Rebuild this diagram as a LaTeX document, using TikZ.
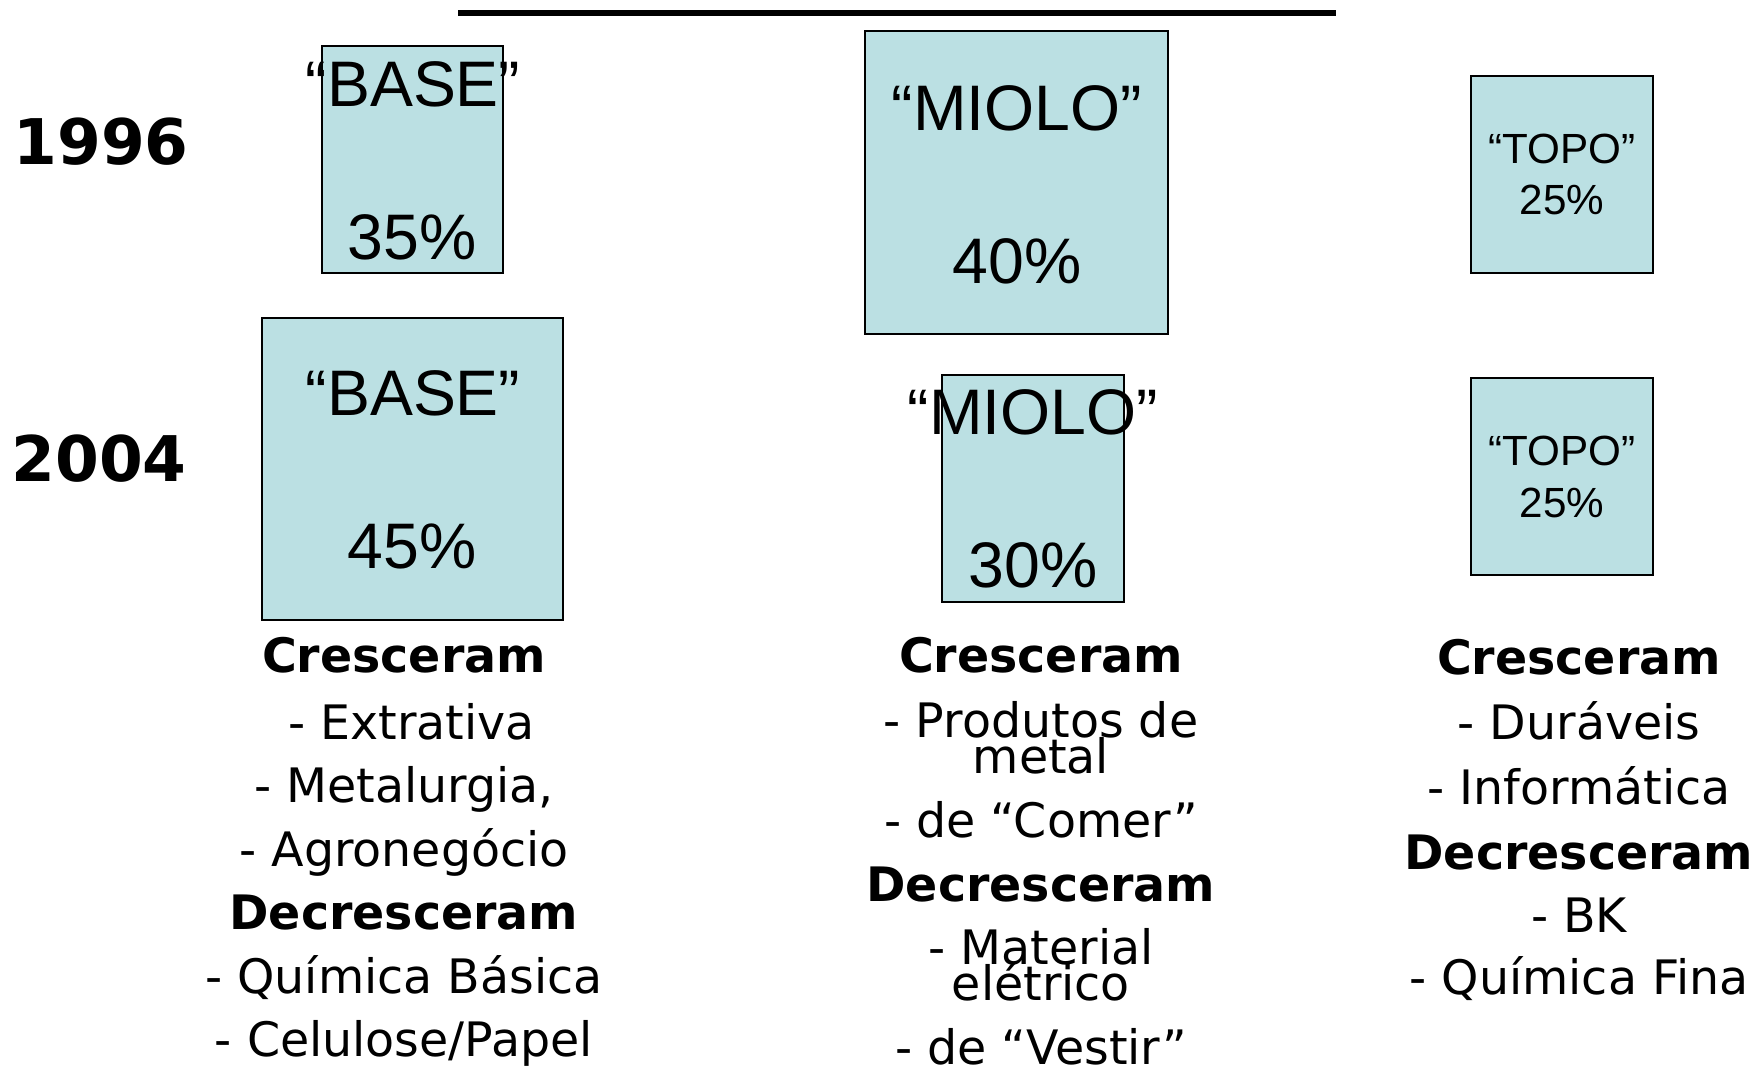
\documentclass[tikz,border=0pt]{standalone}
\usepackage{fontspec}
\usepackage{tikz}
\usetikzlibrary{positioning, calc}
\newfontfamily\boxfont{Liberation Sans}
\newfontfamily\listfont{DejaVu Sans}
\definecolor{boxfill}{RGB}{187,224,227}
\tikzstyle{box} = [draw=black, line width=0.6pt, fill=boxfill]
\tikzstyle{lbl} = [anchor=base, inner sep=0pt, font=\boxfont\fontsize{18.3}{22}\selectfont]
\tikzstyle{slbl} = [anchor=base, inner sep=0pt, font=\boxfont\fontsize{12}{14}\selectfont]
\tikzstyle{yr} = [anchor=base, inner sep=0pt, font=\listfont\bfseries\fontsize{17.9}{21}\selectfont]
\tikzstyle{itm} = [anchor=base, inner sep=0pt, font=\listfont\fontsize{13.5}{16}\selectfont]

\begin{document}
\begin{tikzpicture}[x=0.01cm, y=-0.01cm]
    \useasboundingbox (0,0) rectangle (1760,1068);
    % rule on top
    \coordinate (rl) at (458,13);
    \coordinate (rr) at (1336,13);
    \draw[line width=1.7pt] (rl) -- (rr);
    % years
    \node[yr] (y96) at (101,165) {1996};
    \node[yr] (y04) at (99,482) {2004};
    % 1996
    \draw[box] (322,46) rectangle (503,273);
    \node[lbl] (b96) at (413,107) {“BASE”};
    \node[lbl] (b96p) at (412,260) {35\%};
    \draw[box] (865,31) rectangle (1168,334);
    \node[lbl] (m96) at (1017,131) {“MIOLO”};
    \node[lbl] (m96p) at (1017,284) {40\%};
    \draw[box] (1471,76) rectangle (1653,273);
    \node[slbl] (t96) at (1562,164) {“TOPO”};
    \node[slbl] (t96p) at (1562,215) {25\%};
    % 2004
    \draw[box] (262,318) rectangle (563,620);
    \node[lbl] (b04) at (413,416) {“BASE”};
    \node[lbl] (b04p) at (412,569) {45\%};
    \draw[box] (942,375) rectangle (1124,602);
    \node[lbl] (m04) at (1033,435) {“MIOLO”};
    \node[lbl] (m04p) at (1033,588) {30\%};
    \draw[box] (1471,378) rectangle (1653,575);
    \node[slbl] (t04) at (1562,466) {“TOPO”};
    \node[slbl] (t04p) at (1562,518) {25\%};
    % lists
    \foreach \y/\t [count=\i] in {673/{\bfseries Cresceram}, 740/{\hspace*{4.3pt}- Extrativa},
        803/{- Metalurgia,}, 867/{- Agronegócio}, 930/{\bfseries Decresceram},
        994/{- Química Básica}, 1057/{- Celulose/Papel}}
        \node[itm] (bl\i) at (404,\y) {\t};
    \foreach \y/\t [count=\i] in {673/{\bfseries Cresceram}, 738/{- Produtos de}, 774/{metal},
        838/{- de “Comer”}, 902/{\bfseries Decresceram}, 965/{- Material},
        1001/{elétrico}, 1065/{- de “Vestir”}}
        \node[itm] (ml\i) at (1041,\y) {\t};
    \foreach \y/\t [count=\i] in {675/{\bfseries Cresceram}, 740/{- Duráveis},
        805/{- Informática}, 870/{\bfseries Decresceram}, 933/{- BK},
        995/{- Química Fina}}
        \node[itm] (tl\i) at (1579,\y) {\t};
\end{tikzpicture}
\end{document}
